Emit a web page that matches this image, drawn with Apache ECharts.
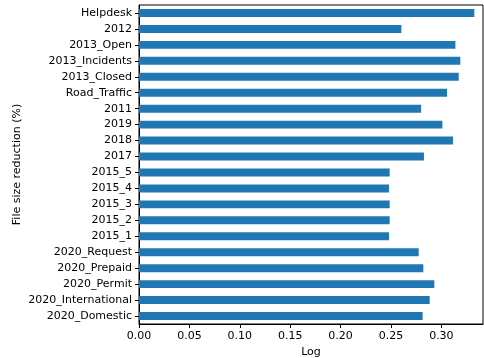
<!DOCTYPE html>
<html>
<head>
<meta charset="utf-8">
<script src="https://cdn.jsdelivr.net/npm/echarts@6/dist/echarts.min.js"></script>
<style>
  html, body { margin: 0; padding: 0; background: #fff; }
  #chart { width: 484px; height: 358px; }
</style>
</head>
<body>
<div id="chart"></div>
<script>
// categories listed top to bottom as they appear
var categories = ['Helpdesk', '2012', '2013_Open', '2013_Incidents', '2013_Closed',
  'Road_Traffic', '2011', '2019', '2018', '2017', '2015_5', '2015_4', '2015_3',
  '2015_2', '2015_1', '2020_Request', '2020_Prepaid', '2020_Permit',
  '2020_International', '2020_Domestic'];
var logValues = [0.3327, 0.2603, 0.3139, 0.3188, 0.3172,
  0.3056, 0.2798, 0.3010, 0.3115, 0.2827, 0.2487, 0.2480, 0.2487,
  0.2487, 0.2480, 0.2775, 0.2821, 0.2930,
  0.2884, 0.2814];

var font = 'DejaVu Sans';
var myChart = echarts.init(document.getElementById('chart'));
var option = {
  animation: false,
  grid: {
    left: 139, right: 1, top: 5, bottom: 34,
    containLabel: false,
    outerBoundsMode: 'none',
    show: true, borderColor: '#000', borderWidth: 1
  },
  xAxis: {
    type: 'value',
    min: 0,
    max: 0.3413,
    interval: 0.05,
    name: 'Log',
    nameLocation: 'middle',
    nameGap: 21,
    nameTextStyle: { fontFamily: font, fontSize: 11, color: '#000' },
    axisLine: { show: true, lineStyle: { color: '#000', width: 1 } },
    axisTick: { show: true, length: 4, lineStyle: { color: '#000' } },
    axisLabel: {
      margin: 7, fontFamily: font, fontSize: 11, color: '#000',
      showMaxLabel: false,
      formatter: function (v) { return v.toFixed(2); }
    },
    splitLine: { show: false }
  },
  yAxis: {
    type: 'category',
    inverse: true,
    data: categories,
    name: 'File size reduction (%)',
    nameLocation: 'middle',
    nameGap: 116,
    nameMoveOverlap: false,
    nameTextStyle: { fontFamily: font, fontSize: 11, color: '#000' },
    axisLine: { show: true, lineStyle: { color: '#000', width: 1 } },
    axisTick: { show: true, alignWithLabel: true, length: 4, lineStyle: { color: '#000' } },
    axisLabel: { margin: 7, fontFamily: font, fontSize: 11, color: '#000' },
    splitLine: { show: false }
  },
  series: [{
    type: 'bar',
    data: logValues,
    barCategoryGap: '50%',
    itemStyle: { color: '#1f77b4' }
  }]
};
myChart.setOption(option);
</script>
</body>
</html>
